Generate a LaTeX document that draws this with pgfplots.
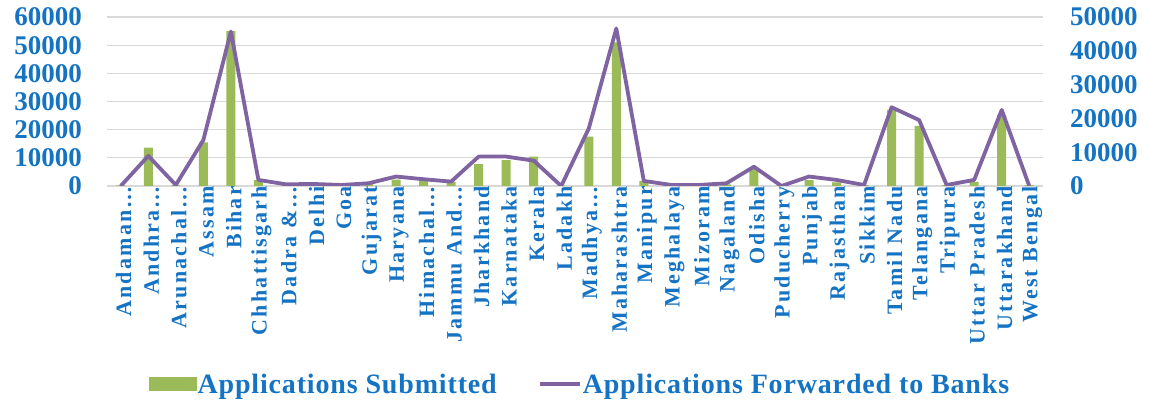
\documentclass[border=0pt]{standalone}
\usepackage{pgfplots}
\pgfplotsset{compat=1.18}
\usepackage{fontspec}
\setmainfont{Liberation Serif}
\newfontfamily\xlabfont[LetterSpace=10]{Liberation Serif}
\newfontfamily\legfont[LetterSpace=3]{Liberation Serif}

\definecolor{barGreen}{RGB}{155,187,89}
\definecolor{linePurple}{RGB}{128,100,162}
\definecolor{txtBlue}{RGB}{20,115,195}
\definecolor{gridGray}{RGB}{217,217,217}

\begin{document}
\begin{tikzpicture}
\begin{axis}[
  name=ax,
  scale only axis,
  width=936pt, height=169pt,
  xmin=-0.5, xmax=33.5,
  ymin=0, ymax=60000,
  ytick={0,10000,...,60000},
  xtick={0,...,33},
  xticklabels={Andaman…,Andhra…,Arunachal…,Assam,Bihar,Chhattisgarh,Dadra \&…,Delhi,Goa,Gujarat,Haryana,Himachal…,Jammu And…,Jharkhand,Karnataka,Kerala,Ladakh,Madhya…,Maharashtra,Manipur,Meghalaya,Mizoram,Nagaland,Odisha,Puducherry,Punjab,Rajasthan,Sikkim,Tamil Nadu,Telangana,Tripura,Uttar Pradesh,Uttarakhand,West Bengal},
  xticklabel style={rotate=90, anchor=east, inner sep=0pt, yshift=-3pt,
    font=\xlabfont\fontsize{22}{24}\selectfont\bfseries, text=txtBlue},
  yticklabel style={anchor=east, inner sep=0pt, xshift=-25pt,
    font=\fontsize{27}{28}\selectfont\bfseries, text=txtBlue},
  /pgf/number format/assume math mode=true,
  scaled y ticks=false,
  yticklabel={\pgfmathprintnumber[fixed,1000 sep={}]{\tick}},
  ymajorgrids,
  major grid style={gridGray, line width=1.2pt},
  axis line style={draw=none},
  tick style={draw=none},
]
\addplot[ybar, bar width=9pt, fill=barGreen, draw=none] coordinates {
  (0,200) (1,13600) (2,300) (3,15500) (4,55000) (5,2100) (6,100) (7,700)
  (8,300) (9,900) (10,2300) (11,2100) (12,1500) (13,7800) (14,9200)
  (15,10400) (16,100) (17,17500) (18,51000) (19,1800) (20,300) (21,200)
  (22,600) (23,6300) (24,300) (25,2100) (26,1300) (27,300) (28,27000)
  (29,21300) (30,300) (31,1500) (32,25200) (33,300)
};
\end{axis}
\begin{axis}[
  scale only axis,
  width=936pt, height=169pt,
  xmin=-0.5, xmax=33.5,
  ymin=0, ymax=50000,
  ytick={0,10000,...,50000},
  xtick=\empty,
  axis y line*=right,
  axis x line=none,
  yticklabel style={anchor=west, inner sep=0pt, xshift=27pt,
    font=\fontsize{27}{28}\selectfont\bfseries, text=txtBlue},
  /pgf/number format/assume math mode=true,
  scaled y ticks=false,
  yticklabel={\pgfmathprintnumber[fixed,1000 sep={}]{\tick}},
  axis line style={draw=none},
  tick style={draw=none},
  legend columns=2,
  legend style={
    at={(0.505,-1.172)}, anchor=center, draw=none, fill=none,
    font=\legfont\fontsize{28}{30}\selectfont\bfseries, text=txtBlue,
    nodes={inner sep=1pt},
    /tikz/every even column/.append style={column sep=40pt},
  },
]
\addlegendimage{legend image code/.code={\fill[barGreen] (0pt,-6.5pt) rectangle (47pt,6.5pt);}}
\addlegendentry{Applications Submitted}
\addplot[linePurple, line width=3.8pt, line join=round, no marks,
  legend image code/.code={\draw[linePurple, line width=4pt] (0pt,0pt) -- (40pt,0pt);}]
  coordinates {
  (0,0) (1,8900) (2,300) (3,13600) (4,45700) (5,1800) (6,500) (7,600)
  (8,300) (9,800) (10,2800) (11,2000) (12,1300) (13,8700) (14,8700)
  (15,7500) (16,0) (17,17000) (18,46600) (19,1500) (20,300) (21,300)
  (22,800) (23,5700) (24,0) (25,2800) (26,1800) (27,300) (28,23300)
  (29,19500) (30,300) (31,1800) (32,22500) (33,0)
};
\addlegendentry{Applications Forwarded to Banks}
\end{axis}
\pgfresetboundingbox
\path[use as bounding box] ([shift={(-107pt,-222pt)}]ax.south west) rectangle ([shift={(106pt,17pt)}]ax.north east);
\end{tikzpicture}
\end{document}
